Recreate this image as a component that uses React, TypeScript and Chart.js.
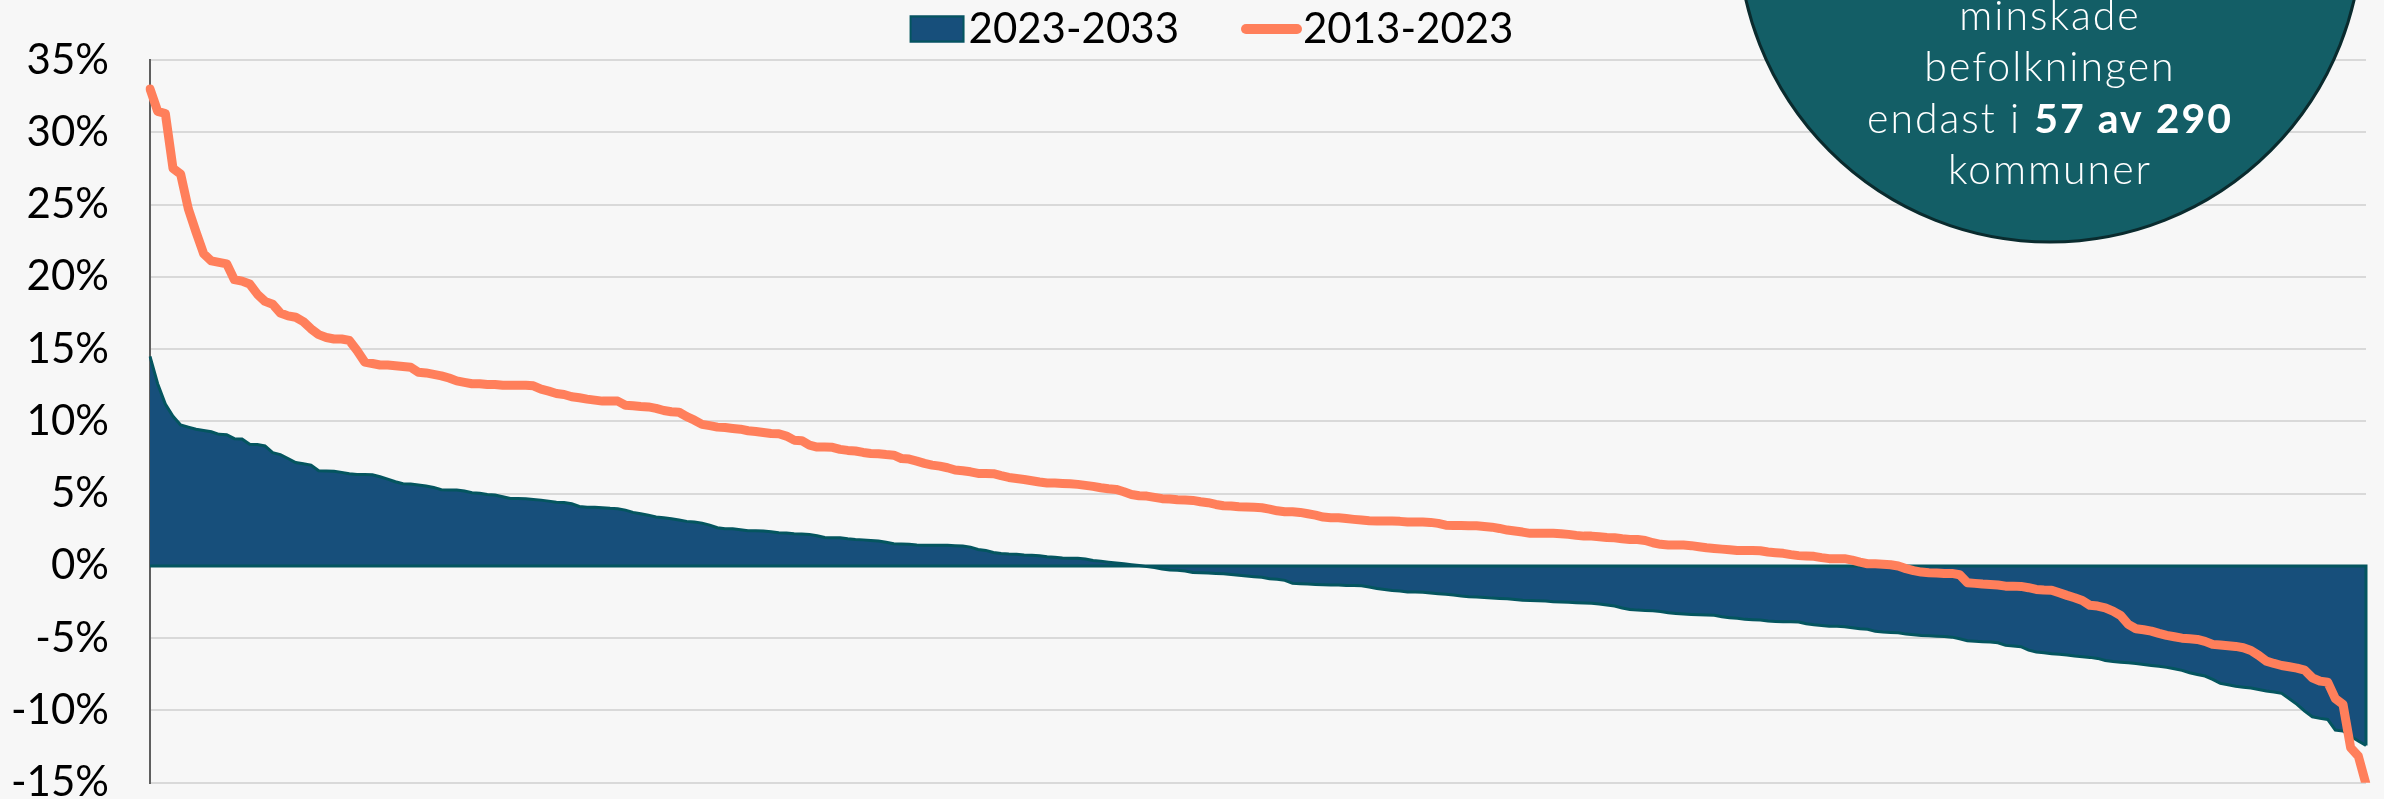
import React, { useEffect, useRef } from 'react';
import { Chart, registerables } from 'chart.js';

Chart.register(...registerables);

// ---- data -------------------------------------------------------------
const seriesNames: string[] = ['2023-2033', '2013-2023'];

// Kommuner, sorted by 2013-2023 change (rank 1..290)
const kommunRank: string[] = Array.from({ length: 290 }, (_, i) => String(i + 1));

// Projected population change 2023-2033 (%)
const change2023to2033: number[] = [
  14.5, 12.6, 11.2, 10.35, 9.75, 9.6, 9.45, 9.37, 9.28, 9.1,
  9.08, 8.8, 8.78, 8.42, 8.4, 8.3, 7.83, 7.7, 7.43, 7.15,
  7.07, 6.97, 6.58, 6.56, 6.55, 6.47, 6.38, 6.33, 6.33, 6.3,
  6.17, 6.0, 5.82, 5.68, 5.66, 5.59, 5.52, 5.43, 5.27, 5.25,
  5.25, 5.18, 5.06, 5.02, 4.94, 4.9, 4.78, 4.67, 4.67, 4.65,
  4.6, 4.55, 4.48, 4.41, 4.39, 4.3, 4.11, 4.05, 4.05, 4.03,
  3.98, 3.96, 3.86, 3.7, 3.61, 3.51, 3.38, 3.33, 3.26, 3.17,
  3.08, 3.04, 2.96, 2.82, 2.64, 2.57, 2.57, 2.5, 2.43, 2.43,
  2.41, 2.36, 2.3, 2.27, 2.22, 2.2, 2.18, 2.09, 1.97, 1.95,
  1.95, 1.88, 1.83, 1.8, 1.76, 1.72, 1.64, 1.53, 1.51, 1.49,
  1.44, 1.42, 1.42, 1.42, 1.42, 1.39, 1.37, 1.3, 1.14, 1.07,
  0.93, 0.86, 0.82, 0.8, 0.75, 0.73, 0.7, 0.63, 0.59, 0.54,
  0.52, 0.52, 0.47, 0.38, 0.33, 0.26, 0.2, 0.15, 0.08, 0.02,
  -0.05, -0.12, -0.22, -0.29, -0.31, -0.36, -0.45, -0.47, -0.5, -0.52,
  -0.54, -0.59, -0.64, -0.7, -0.75, -0.79, -0.89, -0.93, -1.0, -1.21,
  -1.23, -1.25, -1.28, -1.3, -1.33, -1.33, -1.35, -1.35, -1.37, -1.46,
  -1.56, -1.63, -1.7, -1.74, -1.81, -1.81, -1.83, -1.88, -1.92, -1.97,
  -2.02, -2.09, -2.13, -2.15, -2.18, -2.23, -2.25, -2.27, -2.32, -2.37,
  -2.39, -2.41, -2.43, -2.48, -2.5, -2.52, -2.55, -2.57, -2.59, -2.64,
  -2.71, -2.78, -2.91, -3.01, -3.06, -3.08, -3.1, -3.15, -3.24, -3.29,
  -3.33, -3.36, -3.38, -3.4, -3.42, -3.52, -3.58, -3.63, -3.7, -3.73,
  -3.75, -3.82, -3.84, -3.86, -3.86, -3.89, -4.0, -4.07, -4.12, -4.17,
  -4.17, -4.21, -4.28, -4.35, -4.39, -4.53, -4.58, -4.6, -4.62, -4.72,
  -4.76, -4.81, -4.83, -4.86, -4.88, -4.93, -5.04, -5.18, -5.22, -5.25,
  -5.26, -5.32, -5.5, -5.55, -5.59, -5.83, -5.96, -6.01, -6.08, -6.12,
  -6.17, -6.24, -6.28, -6.33, -6.4, -6.54, -6.61, -6.66, -6.7, -6.75,
  -6.82, -6.89, -6.95, -7.02, -7.12, -7.23, -7.39, -7.51, -7.62, -7.85,
  -8.13, -8.22, -8.32, -8.39, -8.45, -8.55, -8.66, -8.73, -8.82, -9.19,
  -9.58, -10.05, -10.44, -10.55, -10.62, -11.36, -11.43, -11.78, -12.12, -12.42,
];

// Population change 2013-2023 (%)
const change2013to2023: number[] = [
  33.0, 31.45, 31.3, 27.5, 27.1, 24.7, 23.1, 21.6, 21.1, 21.0,
  20.9, 19.8, 19.7, 19.5, 18.8, 18.3, 18.1, 17.5, 17.3, 17.2,
  16.9, 16.4, 16.0, 15.8, 15.7, 15.7, 15.6, 14.9, 14.1, 14.0,
  13.9, 13.9, 13.85, 13.8, 13.75, 13.4, 13.35, 13.25, 13.15, 13.0,
  12.8, 12.7, 12.6, 12.6, 12.55, 12.55, 12.5, 12.5, 12.5, 12.5,
  12.46, 12.23, 12.09, 11.93, 11.86, 11.7, 11.63, 11.54, 11.47, 11.4,
  11.4, 11.4, 11.12, 11.08, 11.03, 11.0, 10.9, 10.75, 10.66, 10.63,
  10.32, 10.08, 9.79, 9.7, 9.6, 9.57, 9.51, 9.46, 9.35, 9.3,
  9.23, 9.16, 9.14, 8.98, 8.7, 8.66, 8.35, 8.22, 8.22, 8.2,
  8.06, 7.99, 7.95, 7.85, 7.78, 7.76, 7.7, 7.66, 7.43, 7.39,
  7.25, 7.09, 6.97, 6.9, 6.79, 6.63, 6.58, 6.51, 6.4, 6.4,
  6.38, 6.24, 6.12, 6.05, 5.98, 5.89, 5.8, 5.73, 5.73, 5.7,
  5.68, 5.64, 5.57, 5.5, 5.41, 5.34, 5.29, 5.13, 4.94, 4.85,
  4.83, 4.74, 4.65, 4.63, 4.58, 4.56, 4.53, 4.44, 4.37, 4.25,
  4.16, 4.14, 4.09, 4.07, 4.05, 4.02, 3.93, 3.81, 3.75, 3.75,
  3.7, 3.61, 3.51, 3.38, 3.33, 3.33, 3.28, 3.22, 3.17, 3.12,
  3.1, 3.1, 3.1, 3.08, 3.03, 3.03, 3.03, 3.01, 2.94, 2.82,
  2.8, 2.8, 2.78, 2.78, 2.73, 2.68, 2.59, 2.48, 2.41, 2.34,
  2.25, 2.25, 2.25, 2.25, 2.23, 2.18, 2.11, 2.06, 2.06, 2.02,
  1.97, 1.95, 1.88, 1.83, 1.83, 1.76, 1.6, 1.49, 1.44, 1.44,
  1.44, 1.4, 1.33, 1.26, 1.21, 1.16, 1.12, 1.07, 1.07, 1.07,
  1.05, 0.96, 0.91, 0.87, 0.78, 0.71, 0.68, 0.66, 0.57, 0.5,
  0.5, 0.5, 0.4, 0.26, 0.15, 0.15, 0.12, 0.08, -0.01, -0.19,
  -0.33, -0.43, -0.47, -0.49, -0.52, -0.52, -0.61, -1.16, -1.21, -1.26,
  -1.28, -1.32, -1.4, -1.4, -1.42, -1.51, -1.63, -1.67, -1.68, -1.86,
  -2.04, -2.2, -2.39, -2.73, -2.78, -2.9, -3.13, -3.43, -4.05, -4.35,
  -4.42, -4.51, -4.67, -4.81, -4.9, -5.0, -5.04, -5.09, -5.22, -5.43,
  -5.48, -5.52, -5.57, -5.66, -5.85, -6.19, -6.59, -6.75, -6.89, -6.98,
  -7.07, -7.21, -7.74, -7.97, -8.04, -9.19, -9.58, -12.58, -13.16, -15.1,
];

const yMin = -15;
const yMax = 35;
const yStep = 5;

// Callout text (segments: [text, bold])
const calloutLines: Array<Array<[string, boolean]>> = [
  [['minskade', false]],
  [['befolkningen', false]],
  [['endast i ', false], ['57 av 290', true]],
  [['kommuner', false]],
];

// ---- styles -----------------------------------------------------------
const W = 2384;
const H = 830;
const BG = '#f7f7f7';
const BLUE_FILL = '#174f7b';
const BLUE_BORDER = '#04555f';
const ORANGE = '#ff7f5b';
const GRID = '#d9d9d9';
const AXIS = '#5f5f5f';
const CIRCLE_FILL = '#135e66';
const CIRCLE_BORDER = '#0a2b2e';
const FONT = 'Lato, "Noto Sans", sans-serif';

function makeLegendSymbol(kind: 'box' | 'line'): HTMLCanvasElement {
  const c = document.createElement('canvas');
  c.width = 135;
  c.height = 42;
  const g = c.getContext('2d')!;
  if (kind === 'box') {
    g.fillStyle = BLUE_FILL;
    g.fillRect(77, 7.5, 55, 27);
    g.strokeStyle = BLUE_BORDER;
    g.lineWidth = 2;
    g.strokeRect(78, 8.5, 53, 25);
  } else {
    g.strokeStyle = ORANGE;
    g.lineWidth = 10;
    g.lineCap = 'round';
    g.beginPath();
    g.moveTo(79, 21);
    g.lineTo(130, 21);
    g.stroke();
  }
  return c;
}

const zeroBaseline = {
  id: 'zeroBaseline',
  afterDatasetDraw(chart: any, args: any) {
    if (args.index !== 0) return;
    const { ctx, scales } = chart;
    const xs = scales.x;
    const ys = scales.y;
    const n = change2023to2033.length;
    const x0 = xs.getPixelForValue(0);
    const x1 = xs.getPixelForValue(n - 1);
    const yz = ys.getPixelForValue(0);
    ctx.save();
    ctx.strokeStyle = BLUE_BORDER;
    ctx.lineWidth = 3;
    ctx.lineJoin = 'miter';
    ctx.beginPath();
    ctx.moveTo(x0, yz);
    ctx.lineTo(x1, yz);
    ctx.lineTo(x1, ys.getPixelForValue(change2023to2033[n - 1]));
    ctx.stroke();
    ctx.restore();
  },
};

const callout = {
  id: 'callout',
  afterDraw(chart: any) {
    const { ctx } = chart;
    const cx = 2050;
    const cy = -70;
    const r = 312;
    ctx.save();
    ctx.beginPath();
    ctx.arc(cx, cy, r, 0, Math.PI * 2);
    ctx.fillStyle = CIRCLE_FILL;
    ctx.fill();
    ctx.lineWidth = 3;
    ctx.strokeStyle = CIRCLE_BORDER;
    ctx.stroke();

    ctx.fillStyle = '#ffffff';
    ctx.textAlign = 'left';
    ctx.textBaseline = 'alphabetic';
    try { (ctx as any).letterSpacing = '2px'; } catch (e) { /* ignore */ }
    const baselines = [30, 81, 132.5, 183.5];
    const fontFor = (bold: boolean) => `${bold ? 700 : 300} 41px ${FONT}`;
    calloutLines.forEach((segs, li) => {
      let total = 0;
      const widths = segs.map(([t, b]) => {
        ctx.font = fontFor(b);
        const w = ctx.measureText(t).width;
        total += w;
        return w;
      });
      let x = cx - total / 2;
      segs.forEach(([t, b], si) => {
        ctx.font = fontFor(b);
        ctx.fillText(t, x, baselines[li]);
        x += widths[si];
      });
    });
    ctx.restore();
  },
};

export default function App() {
  const canvasRef = useRef<HTMLCanvasElement | null>(null);

  useEffect(() => {
    let chart: Chart | null = null;
    let cancelled = false;

    const build = () => {
      if (cancelled || !canvasRef.current) return;
      const boxImg = makeLegendSymbol('box');
      const lineImg = makeLegendSymbol('line');

      chart = new Chart(canvasRef.current, {
        type: 'line',
        data: {
          labels: kommunRank,
          datasets: [
            {
              label: seriesNames[0],
              data: change2023to2033,
              fill: 'origin',
              backgroundColor: BLUE_FILL,
              borderColor: BLUE_BORDER,
              borderWidth: 3,
              pointRadius: 0,
              tension: 0,
              order: 1,
            },
            {
              label: seriesNames[1],
              data: change2013to2023,
              fill: false,
              borderColor: ORANGE,
              borderWidth: 9,
              borderJoinStyle: 'round',
              borderCapStyle: 'round',
              pointRadius: 0,
              tension: 0,
              order: 0,
            },
          ],
        },
        options: {
          responsive: false,
          animation: false,
          devicePixelRatio: 1,
          layout: { padding: { top: 0, right: 18, bottom: H - 782.7, left: 0 } },
          plugins: {
            tooltip: { enabled: false },
            legend: {
              display: true,
              position: 'top',
              align: 'center',
              labels: {
                usePointStyle: true,
                pointStyleWidth: 95,
                boxHeight: 42,
                padding: 8,
                color: '#000',
                font: { size: 42, family: FONT },
                generateLabels: () => [
                  {
                    text: seriesNames[0],
                    pointStyle: boxImg,
                    datasetIndex: 0,
                    fillStyle: BLUE_FILL,
                    strokeStyle: BLUE_BORDER,
                    lineWidth: 0,
                    hidden: false,
                    fontColor: '#000',
                  },
                  {
                    text: seriesNames[1],
                    pointStyle: lineImg,
                    datasetIndex: 1,
                    fillStyle: ORANGE,
                    strokeStyle: ORANGE,
                    lineWidth: 0,
                    hidden: false,
                    fontColor: '#000',
                  },
                ] as any,
              },
            },
          },
          scales: {
            x: {
              type: 'category',
              display: false,
              offset: false,
            },
            y: {
              min: yMin,
              max: yMax,
              ticks: {
                stepSize: yStep,
                padding: 0,
                color: '#000',
                font: { size: 42, family: FONT },
                callback: (v: any) => `${v}%`,
              },
              grid: {
                color: GRID,
                lineWidth: 2,
                drawTicks: true,
                tickLength: 41,
                tickColor: 'rgba(0,0,0,0)',
              },
              border: { display: true, color: AXIS, width: 2 },
              afterFit: (s: any) => {
                s.width = 150;
              },
            } as any,
          },
        } as any,
        plugins: [zeroBaseline, callout],
      });
    };

    const fontsReady = (document as any).fonts
      ? Promise.all([
          (document as any).fonts.load(`42px Lato`),
          (document as any).fonts.load(`300 41px Lato`),
          (document as any).fonts.load(`700 41px Lato`),
        ]).catch(() => null)
      : Promise.resolve(null);
    fontsReady.then(build);

    return () => {
      cancelled = true;
      if (chart) chart.destroy();
    };
  }, []);

  return (
    <div
      style={{
        position: 'fixed',
        left: 0,
        top: 0,
        width: W,
        height: 799,
        overflow: 'hidden',
        background: BG,
      }}
    >
      <canvas ref={canvasRef} width={W} height={H} style={{ display: 'block', width: W, height: H }} />
    </div>
  );
}
